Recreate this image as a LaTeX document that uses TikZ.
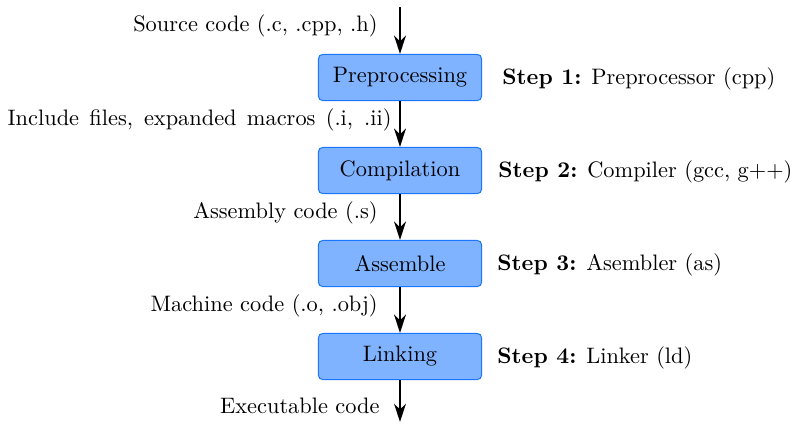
\documentclass[tikz,border=0pt]{standalone}
\usepackage{tikz}
\usetikzlibrary{arrows.meta}
\definecolor{boxfill}{RGB}{128,179,255}
\definecolor{boxline}{RGB}{26,117,255}

\begin{document}
\begin{tikzpicture}[x=0.447pt,y=-0.447pt,
  stage/.style={draw=boxline,fill=boxfill,rounded corners=1.9pt,line width=0.45pt,
    minimum width=72.9pt,minimum height=20.6pt,inner sep=0pt},
  flow/.style={-{Stealth[length=8.2pt,width=5.3pt,inset=2.6pt]},line width=0.75pt},
  lbl/.style={anchor=east,inner sep=0pt},
  steplbl/.style={anchor=west,inner sep=0pt}]

\useasboundingbox (0,0) rectangle (792,423);

%\tikzset{node distance=20pt}

\node[stage](prep) at (400,77.5) {Preprocessing};
\node[stage](comp) at (400,170.5) {Compilation};
\node[stage](asm) at (400,263.5) {Assemble};
\node[stage](link) at (400,356.5) {Linking};

\coordinate (src) at (400,7);
\coordinate (exe) at (400,422);

\draw[flow] (src) -- (prep);
\draw[flow] (prep) -- (comp);
\draw[flow] (comp) -- (asm);
\draw[flow] (asm) -- (link);
\draw[flow] (link) -- (exe);

\node[lbl](srclbl) at (378,25.5) {Source code (.c, .cpp, .h)};
\node[lbl](incllbl) at (392,119.5) {\makebox[171.6pt][s]{Include files, expanded macros (.i, .ii)}};
\node[lbl](asmlbl) at (378,212.5) {Assembly code (.s)};
\node[lbl](machlbl) at (378,305.5) {Machine code (.o, .obj)};
\node[lbl](exelbl) at (380,405.5) {Executable code};

\node[steplbl](s1) at (502,78.5) {\textbf{Step 1:} Preprocessor (cpp)};
\node[steplbl](s2) at (498,171.5) {\textbf{Step 2:} Compiler (gcc, g++)};
\node[steplbl](s3) at (497,264.5) {\textbf{Step 3:} Asembler (as)};
\node[steplbl](s4) at (497,357.5) {\textbf{Step 4:} Linker (ld)};
\end{tikzpicture}
\end{document}
